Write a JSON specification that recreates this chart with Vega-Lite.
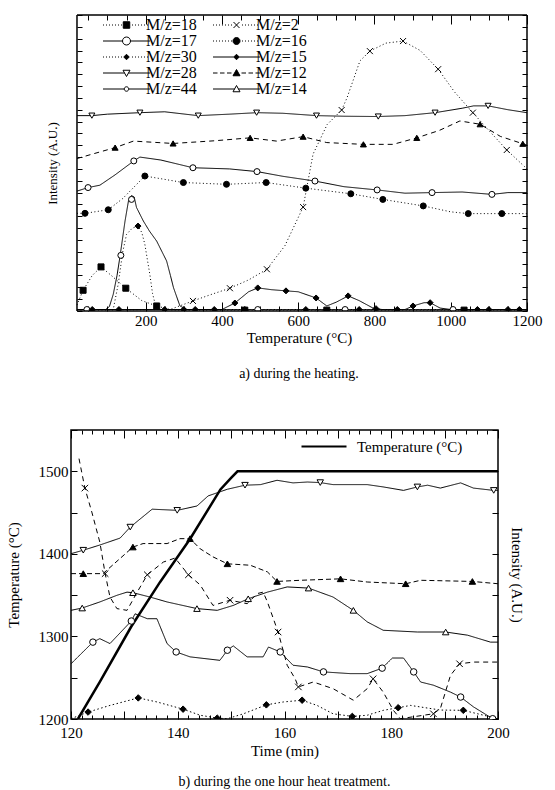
{
"$schema": "https://vega.github.io/schema/vega-lite/v6.json",
"background": "white",
"padding": {"left": 5, "top": 14, "right": 5, "bottom": 5},
"spacing": 41,
"resolve": {"scale": {"shape": "independent", "fill": "independent", "size": "independent", "strokeDash": "independent", "stroke": "independent"}, "legend": {"shape": "independent", "fill": "independent", "stroke": "independent", "size": "independent", "strokeDash": "independent"}},
"config": {
  "font": "Liberation Serif",
  "view": {"stroke": "black", "strokeWidth": 1.5},
  "axis": {"domain": false, "grid": false, "tickColor": "black", "tickWidth": 1, "labelColor": "black", "titleColor": "black", "labelFont": "Liberation Serif", "titleFont": "Liberation Serif", "labelFontSize": 15, "titleFontSize": 15, "titleFontWeight": "normal", "labelFlush": false, "labelOverlap": false},
  "title": {"font": "Liberation Serif", "fontSize": 14, "fontWeight": "normal", "color": "black"},
  "legend": {"labelFont": "Liberation Serif", "labelColor": "black"}
},
"datasets": {
  "topLines": [
    {"s":"M/z=28","T":20,"I":66},{"s":"M/z=28","T":59,"I":66},{"s":"M/z=28","T":100,"I":66.5},{"s":"M/z=28","T":185,"I":67},{"s":"M/z=28","T":250,"I":67.3},{"s":"M/z=28","T":337,"I":66},{"s":"M/z=28","T":420,"I":66.5},{"s":"M/z=28","T":492,"I":67},{"s":"M/z=28","T":560,"I":66.8},{"s":"M/z=28","T":649,"I":66},{"s":"M/z=28","T":720,"I":65.8},{"s":"M/z=28","T":809,"I":65.7},{"s":"M/z=28","T":880,"I":66},{"s":"M/z=28","T":959,"I":67},{"s":"M/z=28","T":1030,"I":68.5},{"s":"M/z=28","T":1060,"I":69.3},{"s":"M/z=28","T":1098,"I":69.3},{"s":"M/z=28","T":1150,"I":68},{"s":"M/z=28","T":1200,"I":67},
    {"s":"M/z=12","T":20,"I":51.5},{"s":"M/z=12","T":60,"I":53},{"s":"M/z=12","T":120,"I":55.2},{"s":"M/z=12","T":168,"I":57.4},{"s":"M/z=12","T":272,"I":56.6},{"s":"M/z=12","T":380,"I":57.5},{"s":"M/z=12","T":474,"I":58.5},{"s":"M/z=12","T":543,"I":57.4},{"s":"M/z=12","T":613,"I":58.9},{"s":"M/z=12","T":675,"I":56.9},{"s":"M/z=12","T":770,"I":56.3},{"s":"M/z=12","T":849,"I":56.3},{"s":"M/z=12","T":911,"I":58.5},{"s":"M/z=12","T":970,"I":61},{"s":"M/z=12","T":1024,"I":64.2},{"s":"M/z=12","T":1077,"I":63.1},{"s":"M/z=12","T":1130,"I":59},{"s":"M/z=12","T":1189,"I":56.5},{"s":"M/z=12","T":1200,"I":56},
    {"s":"M/z=17","T":20,"I":40.5},{"s":"M/z=17","T":49,"I":41.7},{"s":"M/z=17","T":80,"I":42.5},{"s":"M/z=17","T":120,"I":46},{"s":"M/z=17","T":169,"I":50.7},{"s":"M/z=17","T":185,"I":52},{"s":"M/z=17","T":240,"I":51},{"s":"M/z=17","T":324,"I":48.4},{"s":"M/z=17","T":420,"I":48},{"s":"M/z=17","T":492,"I":47.1},{"s":"M/z=17","T":560,"I":45.5},{"s":"M/z=17","T":644,"I":43.9},{"s":"M/z=17","T":720,"I":42},{"s":"M/z=17","T":807,"I":40.9},{"s":"M/z=17","T":880,"I":39.8},{"s":"M/z=17","T":951,"I":40},{"s":"M/z=17","T":1030,"I":40.2},{"s":"M/z=17","T":1108,"I":39.4},{"s":"M/z=17","T":1150,"I":40},{"s":"M/z=17","T":1200,"I":40},
    {"s":"M/z=16","T":20,"I":33},{"s":"M/z=16","T":41,"I":33},{"s":"M/z=16","T":102,"I":34.2},{"s":"M/z=16","T":140,"I":38},{"s":"M/z=16","T":198,"I":45.6},{"s":"M/z=16","T":299,"I":43.4},{"s":"M/z=16","T":412,"I":42.8},{"s":"M/z=16","T":516,"I":43.4},{"s":"M/z=16","T":620,"I":41.5},{"s":"M/z=16","T":738,"I":39.6},{"s":"M/z=16","T":822,"I":37.7},{"s":"M/z=16","T":928,"I":35.5},{"s":"M/z=16","T":1000,"I":33.5},{"s":"M/z=16","T":1046,"I":32.9},{"s":"M/z=16","T":1134,"I":32.9},{"s":"M/z=16","T":1200,"I":32.9},
    {"s":"M/z=44","T":20,"I":0.5},{"s":"M/z=44","T":95,"I":0.5},{"s":"M/z=44","T":105,"I":1.5},{"s":"M/z=44","T":115,"I":5.6},{"s":"M/z=44","T":125,"I":12},{"s":"M/z=44","T":133,"I":18.6},{"s":"M/z=44","T":146,"I":30.4},{"s":"M/z=44","T":155,"I":37.2},{"s":"M/z=44","T":163,"I":39},{"s":"M/z=44","T":170,"I":38.5},{"s":"M/z=44","T":176,"I":35},{"s":"M/z=44","T":194,"I":30.4},{"s":"M/z=44","T":210,"I":27},{"s":"M/z=44","T":229,"I":23.6},{"s":"M/z=44","T":255,"I":16.9},{"s":"M/z=44","T":265,"I":12},{"s":"M/z=44","T":273,"I":7.9},{"s":"M/z=44","T":290,"I":1.7},{"s":"M/z=44","T":308,"I":0.5},{"s":"M/z=44","T":1200,"I":0.5},
    {"s":"M/z=30","T":20,"I":0.5},{"s":"M/z=30","T":115,"I":0.5},{"s":"M/z=30","T":128,"I":9},{"s":"M/z=30","T":140,"I":20},{"s":"M/z=30","T":150,"I":25.9},{"s":"M/z=30","T":165,"I":28},{"s":"M/z=30","T":180,"I":28.7},{"s":"M/z=30","T":190,"I":26.5},{"s":"M/z=30","T":198,"I":22.5},{"s":"M/z=30","T":205,"I":17},{"s":"M/z=30","T":211,"I":12.4},{"s":"M/z=30","T":218,"I":6},{"s":"M/z=30","T":225,"I":2.3},{"s":"M/z=30","T":235,"I":0.6},{"s":"M/z=30","T":245,"I":0.5},{"s":"M/z=30","T":1200,"I":0.5},
    {"s":"M/z=2","T":20,"I":0.3},{"s":"M/z=2","T":264,"I":0.5},{"s":"M/z=2","T":324,"I":3.4},{"s":"M/z=2","T":370,"I":5.5},{"s":"M/z=2","T":421,"I":7.7},{"s":"M/z=2","T":470,"I":10.5},{"s":"M/z=2","T":518,"I":14.1},{"s":"M/z=2","T":565,"I":22},{"s":"M/z=2","T":613,"I":35.1},{"s":"M/z=2","T":639,"I":53},{"s":"M/z=2","T":676,"I":63},{"s":"M/z=2","T":714,"I":67.9},{"s":"M/z=2","T":728,"I":72},{"s":"M/z=2","T":762,"I":84.5},{"s":"M/z=2","T":788,"I":87.8},{"s":"M/z=2","T":830,"I":90.5},{"s":"M/z=2","T":875,"I":91.2},{"s":"M/z=2","T":920,"I":88},{"s":"M/z=2","T":967,"I":81.7},{"s":"M/z=2","T":1010,"I":74},{"s":"M/z=2","T":1058,"I":67},{"s":"M/z=2","T":1100,"I":61},{"s":"M/z=2","T":1147,"I":54.4},{"s":"M/z=2","T":1200,"I":48},
    {"s":"M/z=18","T":20,"I":2},{"s":"M/z=18","T":36,"I":7},{"s":"M/z=18","T":60,"I":12},{"s":"M/z=18","T":83,"I":14.9},{"s":"M/z=18","T":110,"I":12},{"s":"M/z=18","T":148,"I":7.7},{"s":"M/z=18","T":190,"I":3.5},{"s":"M/z=18","T":229,"I":1.7},{"s":"M/z=18","T":270,"I":0.3},{"s":"M/z=18","T":1200,"I":0.3},
    {"s":"M/z=15","T":20,"I":0.5},{"s":"M/z=15","T":400,"I":0.5},{"s":"M/z=15","T":434,"I":2.7},{"s":"M/z=15","T":470,"I":6.5},{"s":"M/z=15","T":494,"I":7.8},{"s":"M/z=15","T":530,"I":7.2},{"s":"M/z=15","T":568,"I":6.8},{"s":"M/z=15","T":600,"I":6.5},{"s":"M/z=15","T":647,"I":4.4},{"s":"M/z=15","T":675,"I":1.7},{"s":"M/z=15","T":700,"I":3},{"s":"M/z=15","T":731,"I":5.1},{"s":"M/z=15","T":760,"I":3.5},{"s":"M/z=15","T":796,"I":1.0},{"s":"M/z=15","T":820,"I":0.5},{"s":"M/z=15","T":880,"I":0.5},{"s":"M/z=15","T":901,"I":1.7},{"s":"M/z=15","T":930,"I":2.8},{"s":"M/z=15","T":946,"I":2.8},{"s":"M/z=15","T":972,"I":1.0},{"s":"M/z=15","T":1000,"I":0.5},{"s":"M/z=15","T":1200,"I":0.5}
  ],
  "topMarkers": [
    {"s":"M/z=28","T":59,"I":66},{"s":"M/z=28","T":185,"I":67},{"s":"M/z=28","T":338,"I":66},{"s":"M/z=28","T":491,"I":67},{"s":"M/z=28","T":648,"I":66},{"s":"M/z=28","T":810,"I":65.7},{"s":"M/z=28","T":959,"I":67},{"s":"M/z=28","T":1098,"I":69.3},
    {"s":"M/z=12","T":120,"I":55.2},{"s":"M/z=12","T":272,"I":56.6},{"s":"M/z=12","T":474,"I":58.5},{"s":"M/z=12","T":613,"I":58.9},{"s":"M/z=12","T":771,"I":56.3},{"s":"M/z=12","T":911,"I":58.5},{"s":"M/z=12","T":1077,"I":63.1},{"s":"M/z=12","T":1189,"I":56.5},
    {"s":"M/z=17","T":49,"I":41.7},{"s":"M/z=17","T":169,"I":50.7},{"s":"M/z=17","T":324,"I":48.4},{"s":"M/z=17","T":492,"I":47.1},{"s":"M/z=17","T":644,"I":43.9},{"s":"M/z=17","T":807,"I":40.9},{"s":"M/z=17","T":951,"I":40},{"s":"M/z=17","T":1108,"I":39.4},
    {"s":"M/z=16","T":41,"I":33},{"s":"M/z=16","T":102,"I":34.2},{"s":"M/z=16","T":198,"I":45.6},{"s":"M/z=16","T":299,"I":43.4},{"s":"M/z=16","T":412,"I":42.8},{"s":"M/z=16","T":516,"I":43.4},{"s":"M/z=16","T":620,"I":41.5},{"s":"M/z=16","T":738,"I":39.6},{"s":"M/z=16","T":822,"I":37.7},{"s":"M/z=16","T":928,"I":35.5},{"s":"M/z=16","T":1046,"I":32.9},{"s":"M/z=16","T":1134,"I":32.9},
    {"s":"M/z=44","T":46,"I":0.5},{"s":"M/z=44","T":135,"I":18.8},{"s":"M/z=44","T":163,"I":37.7},{"s":"M/z=44","T":494,"I":0.5},{"s":"M/z=44","T":723,"I":0.5},{"s":"M/z=44","T":1006,"I":0.5},
    {"s":"M/z=30","T":180,"I":28.7},{"s":"M/z=30","T":250,"I":0.5},{"s":"M/z=30","T":330,"I":0.5},{"s":"M/z=30","T":460,"I":0.5},{"s":"M/z=30","T":620,"I":0.5},{"s":"M/z=30","T":760,"I":0.5},{"s":"M/z=30","T":860,"I":0.5},{"s":"M/z=30","T":1100,"I":0.5},{"s":"M/z=30","T":1180,"I":0.5},
    {"s":"M/z=2","T":324,"I":3.4},{"s":"M/z=2","T":421,"I":7.7},{"s":"M/z=2","T":518,"I":14.1},{"s":"M/z=2","T":613,"I":35.1},{"s":"M/z=2","T":714,"I":67.9},{"s":"M/z=2","T":788,"I":87.8},{"s":"M/z=2","T":875,"I":91.2},{"s":"M/z=2","T":967,"I":81.7},{"s":"M/z=2","T":1058,"I":67},{"s":"M/z=2","T":1147,"I":54.4},
    {"s":"M/z=18","T":36,"I":7},{"s":"M/z=18","T":83,"I":14.9},{"s":"M/z=18","T":148,"I":7.7},{"s":"M/z=18","T":229,"I":1.7},{"s":"M/z=18","T":460,"I":0.3},{"s":"M/z=18","T":675,"I":0.3},{"s":"M/z=18","T":1035,"I":0.3},
    {"s":"M/z=15","T":60,"I":0.5},{"s":"M/z=15","T":130,"I":0.5},{"s":"M/z=15","T":300,"I":0.5},{"s":"M/z=15","T":380,"I":0.5},{"s":"M/z=15","T":434,"I":2.7},{"s":"M/z=15","T":494,"I":7.8},{"s":"M/z=15","T":568,"I":6.8},{"s":"M/z=15","T":647,"I":4.4},{"s":"M/z=15","T":731,"I":5.1},{"s":"M/z=15","T":804,"I":0.8},{"s":"M/z=15","T":901,"I":1.7},{"s":"M/z=15","T":946,"I":2.8},{"s":"M/z=15","T":1070,"I":0.5},{"s":"M/z=15","T":1150,"I":0.5}
  ],
  "topLegend": [
    {"s":"M/z=18"},{"s":"M/z=17"},{"s":"M/z=30"},{"s":"M/z=28"},{"s":"M/z=44"},{"s":"M/z=2"},{"s":"M/z=16"},{"s":"M/z=15"},{"s":"M/z=12"},{"s":"M/z=14"}
  ],
  "temp": [
    {"t":121.3,"v":1200},{"t":125.4,"v":1245},{"t":131.3,"v":1312},{"t":136.7,"v":1366},{"t":142.3,"v":1418},{"t":148,"v":1478},{"t":150,"v":1492},{"t":151.2,"v":1500},{"t":200,"v":1500}
  ],
  "bottomLines": [
    {"s":"M/z=28","t":120,"I":57.2},{"s":"M/z=28","t":122.3,"I":58.4},{"s":"M/z=28","t":125.4,"I":60.2},{"s":"M/z=28","t":129.2,"I":62.6},{"s":"M/z=28","t":131.1,"I":66.4},{"s":"M/z=28","t":135.2,"I":72.6},{"s":"M/z=28","t":139.9,"I":72.2},{"s":"M/z=28","t":143.6,"I":73.7},{"s":"M/z=28","t":145.7,"I":77.2},{"s":"M/z=28","t":149.3,"I":79.5},{"s":"M/z=28","t":152.6,"I":80.9},{"s":"M/z=28","t":155.5,"I":81.1},{"s":"M/z=28","t":158.6,"I":82.6},{"s":"M/z=28","t":161.6,"I":81.7},{"s":"M/z=28","t":164.3,"I":82.0},{"s":"M/z=28","t":166.7,"I":81.8},{"s":"M/z=28","t":169.1,"I":81.1},{"s":"M/z=28","t":175.5,"I":81.1},{"s":"M/z=28","t":178.5,"I":80.3},{"s":"M/z=28","t":182.3,"I":79.1},{"s":"M/z=28","t":184.9,"I":80.3},{"s":"M/z=28","t":186.8,"I":80.9},{"s":"M/z=28","t":189.2,"I":79.9},{"s":"M/z=28","t":193.0,"I":81.7},{"s":"M/z=28","t":195.4,"I":79.9},{"s":"M/z=28","t":199.2,"I":79.1},{"s":"M/z=28","t":200,"I":79.1},
    {"s":"M/z=12","t":120,"I":50.3},{"s":"M/z=12","t":122.3,"I":50.3},{"s":"M/z=12","t":126.0,"I":50.3},{"s":"M/z=12","t":131.6,"I":59.5},{"s":"M/z=12","t":133.5,"I":60.7},{"s":"M/z=12","t":138.0,"I":60.7},{"s":"M/z=12","t":140.4,"I":62.4},{"s":"M/z=12","t":142.3,"I":62.4},{"s":"M/z=12","t":144.2,"I":58.9},{"s":"M/z=12","t":146.6,"I":56.1},{"s":"M/z=12","t":149.3,"I":53.7},{"s":"M/z=12","t":153.6,"I":53.2},{"s":"M/z=12","t":156.8,"I":50.9},{"s":"M/z=12","t":158.6,"I":47.6},{"s":"M/z=12","t":163.0,"I":48.0},{"s":"M/z=12","t":170.5,"I":48.5},{"s":"M/z=12","t":175.5,"I":47.4},{"s":"M/z=12","t":182.7,"I":46.8},{"s":"M/z=12","t":185.5,"I":48.0},{"s":"M/z=12","t":195.2,"I":47.6},{"s":"M/z=12","t":200,"I":46.8},
    {"s":"M/z=2","t":121.5,"I":90.1},{"s":"M/z=2","t":122.6,"I":79.9},{"s":"M/z=2","t":123.9,"I":71.6},{"s":"M/z=2","t":125.4,"I":61.2},{"s":"M/z=2","t":126.4,"I":50.3},{"s":"M/z=2","t":127.3,"I":42.2},{"s":"M/z=2","t":128.6,"I":38.2},{"s":"M/z=2","t":130.5,"I":37.6},{"s":"M/z=2","t":132.4,"I":43.9},{"s":"M/z=2","t":134.3,"I":49.9},{"s":"M/z=2","t":137.3,"I":54.3},{"s":"M/z=2","t":139.5,"I":55.7},{"s":"M/z=2","t":142.0,"I":49.9},{"s":"M/z=2","t":144.2,"I":46.4},{"s":"M/z=2","t":146.6,"I":39.3},{"s":"M/z=2","t":149.8,"I":41.1},{"s":"M/z=2","t":153.0,"I":39.9},{"s":"M/z=2","t":154.9,"I":43.4},{"s":"M/z=2","t":156.0,"I":43.9},{"s":"M/z=2","t":156.8,"I":40.5},{"s":"M/z=2","t":158.8,"I":30.1},{"s":"M/z=2","t":160.5,"I":18.6},{"s":"M/z=2","t":162.0,"I":13.9},{"s":"M/z=2","t":162.6,"I":11.1},{"s":"M/z=2","t":165.4,"I":12.8},{"s":"M/z=2","t":169.1,"I":10.5},{"s":"M/z=2","t":172.9,"I":6.5},{"s":"M/z=2","t":175.5,"I":10.5},{"s":"M/z=2","t":176.6,"I":13.9},{"s":"M/z=2","t":178.5,"I":9.3},{"s":"M/z=2","t":180.4,"I":3.0},{"s":"M/z=2","t":181.7,"I":0.1},{"s":"M/z=2","t":187.9,"I":1.8},{"s":"M/z=2","t":189.2,"I":3.6},{"s":"M/z=2","t":191.1,"I":15.1},{"s":"M/z=2","t":192.8,"I":19.1},{"s":"M/z=2","t":195.4,"I":19.7},{"s":"M/z=2","t":200,"I":19.7},
    {"s":"M/z=14","t":120,"I":37.6},{"s":"M/z=14","t":122.1,"I":38.4},{"s":"M/z=14","t":125.4,"I":40.5},{"s":"M/z=14","t":128.6,"I":42.8},{"s":"M/z=14","t":130.5,"I":43.9},{"s":"M/z=14","t":131.6,"I":43.7},{"s":"M/z=14","t":134.8,"I":42.2},{"s":"M/z=14","t":138.0,"I":40.5},{"s":"M/z=14","t":143.6,"I":38.2},{"s":"M/z=14","t":147.4,"I":37.6},{"s":"M/z=14","t":150.4,"I":39.3},{"s":"M/z=14","t":153.2,"I":41.6},{"s":"M/z=14","t":156.8,"I":43.9},{"s":"M/z=14","t":160.5,"I":45.7},{"s":"M/z=14","t":164.5,"I":45.3},{"s":"M/z=14","t":169.1,"I":42.2},{"s":"M/z=14","t":172.9,"I":37.6},{"s":"M/z=14","t":175.5,"I":33.6},{"s":"M/z=14","t":178.5,"I":30.7},{"s":"M/z=14","t":184.9,"I":30.1},{"s":"M/z=14","t":190.2,"I":30.1},{"s":"M/z=14","t":194.3,"I":29.0},{"s":"M/z=14","t":198.6,"I":26.6},{"s":"M/z=14","t":200,"I":26.6},
    {"s":"M/z=44","t":120,"I":19.1},{"s":"M/z=44","t":124.1,"I":26.6},{"s":"M/z=44","t":125.4,"I":27.8},{"s":"M/z=44","t":127.3,"I":26.1},{"s":"M/z=44","t":131.3,"I":33.9},{"s":"M/z=44","t":132.0,"I":36.4},{"s":"M/z=44","t":134.3,"I":34.7},{"s":"M/z=44","t":136.1,"I":34.7},{"s":"M/z=44","t":138.0,"I":26.1},{"s":"M/z=44","t":139.7,"I":23.2},{"s":"M/z=44","t":142.3,"I":21.5},{"s":"M/z=44","t":147.9,"I":20.3},{"s":"M/z=44","t":149.3,"I":23.8},{"s":"M/z=44","t":150.4,"I":25.3},{"s":"M/z=44","t":153.0,"I":21.5},{"s":"M/z=44","t":156.0,"I":21.5},{"s":"M/z=44","t":157.0,"I":24.9},{"s":"M/z=44","t":159.2,"I":23.2},{"s":"M/z=44","t":161.6,"I":18.6},{"s":"M/z=44","t":164.3,"I":18.0},{"s":"M/z=44","t":167.3,"I":16.3},{"s":"M/z=44","t":172.3,"I":15.7},{"s":"M/z=44","t":175.5,"I":15.7},{"s":"M/z=44","t":178.3,"I":17.6},{"s":"M/z=44","t":180.2,"I":21.1},{"s":"M/z=44","t":182.3,"I":21.1},{"s":"M/z=44","t":184.2,"I":16.3},{"s":"M/z=44","t":185.5,"I":12.8},{"s":"M/z=44","t":187.9,"I":11.7},{"s":"M/z=44","t":191.1,"I":9.3},{"s":"M/z=44","t":193.0,"I":7.6},{"s":"M/z=44","t":195.4,"I":4.2},{"s":"M/z=44","t":199.0,"I":0.1},{"s":"M/z=44","t":200,"I":0.1},
    {"s":"M/z=30","t":120,"I":0.1},{"s":"M/z=30","t":123.2,"I":2.4},{"s":"M/z=30","t":127.3,"I":4.7},{"s":"M/z=30","t":132.6,"I":7.3},{"s":"M/z=30","t":136.1,"I":5.9},{"s":"M/z=30","t":141.0,"I":3.4},{"s":"M/z=30","t":144.2,"I":1.3},{"s":"M/z=30","t":147.4,"I":0.3},{"s":"M/z=30","t":149.3,"I":0.1},{"s":"M/z=30","t":152.3,"I":1.8},{"s":"M/z=30","t":156.6,"I":4.9},{"s":"M/z=30","t":159.8,"I":5.9},{"s":"M/z=30","t":163.3,"I":6.5},{"s":"M/z=30","t":166.1,"I":4.7},{"s":"M/z=30","t":169.1,"I":1.8},{"s":"M/z=30","t":172.7,"I":0.9},{"s":"M/z=30","t":175.5,"I":1.3},{"s":"M/z=30","t":178.5,"I":3.0},{"s":"M/z=30","t":181.3,"I":3.9},{"s":"M/z=30","t":183.6,"I":4.7},{"s":"M/z=30","t":189.2,"I":3.1},{"s":"M/z=30","t":193.5,"I":3.0},{"s":"M/z=30","t":200,"I":0.1}
  ],
  "bottomMarkers": [
    {"s":"M/z=28","t":122.3,"I":58.4},{"s":"M/z=28","t":131.1,"I":66.4},{"s":"M/z=28","t":139.9,"I":72.2},{"s":"M/z=28","t":152.6,"I":80.9},{"s":"M/z=28","t":166.7,"I":81.8},{"s":"M/z=28","t":184.9,"I":80.3},{"s":"M/z=28","t":199.2,"I":79.1},
    {"s":"M/z=12","t":122.3,"I":50.3},{"s":"M/z=12","t":131.6,"I":59.5},{"s":"M/z=12","t":142.3,"I":62.4},{"s":"M/z=12","t":149.3,"I":53.7},{"s":"M/z=12","t":158.6,"I":47.6},{"s":"M/z=12","t":170.5,"I":48.5},{"s":"M/z=12","t":182.7,"I":46.8},{"s":"M/z=12","t":195.2,"I":47.6},
    {"s":"M/z=2","t":122.6,"I":79.9},{"s":"M/z=2","t":126.4,"I":50.3},{"s":"M/z=2","t":134.3,"I":49.9},{"s":"M/z=2","t":142.0,"I":49.9},{"s":"M/z=2","t":149.8,"I":41.1},{"s":"M/z=2","t":158.8,"I":30.1},{"s":"M/z=2","t":162.6,"I":11.1},{"s":"M/z=2","t":176.6,"I":13.9},{"s":"M/z=2","t":187.9,"I":1.8},{"s":"M/z=2","t":192.8,"I":19.1},
    {"s":"M/z=14","t":122.1,"I":38.4},{"s":"M/z=14","t":131.6,"I":43.7},{"s":"M/z=14","t":143.6,"I":38.2},{"s":"M/z=14","t":153.2,"I":41.6},{"s":"M/z=14","t":164.5,"I":45.3},{"s":"M/z=14","t":172.9,"I":37.6},{"s":"M/z=14","t":190.2,"I":30.1},
    {"s":"M/z=44","t":124.1,"I":26.6},{"s":"M/z=44","t":131.3,"I":33.9},{"s":"M/z=44","t":139.7,"I":23.2},{"s":"M/z=44","t":149.3,"I":23.8},{"s":"M/z=44","t":159.2,"I":23.2},{"s":"M/z=44","t":167.3,"I":16.3},{"s":"M/z=44","t":178.3,"I":17.6},{"s":"M/z=44","t":184.2,"I":16.3},{"s":"M/z=44","t":193.0,"I":7.6},{"s":"M/z=44","t":199.0,"I":0.1},
    {"s":"M/z=30","t":123.2,"I":2.4},{"s":"M/z=30","t":132.6,"I":7.3},{"s":"M/z=30","t":141.0,"I":3.4},{"s":"M/z=30","t":147.4,"I":0.3},{"s":"M/z=30","t":156.6,"I":4.9},{"s":"M/z=30","t":163.3,"I":6.5},{"s":"M/z=30","t":172.7,"I":0.9},{"s":"M/z=30","t":181.3,"I":3.9},{"s":"M/z=30","t":193.5,"I":3.0}
  ]
},
"vconcat": [
  {
    "width": 456, "height": 296,
    "view": {"stroke": null},
    "title": {"text": "a) during the heating.", "orient": "bottom", "offset": 22},
    "layer": [
      {
        "data": {"name": "topLines"},
        "mark": {"type": "line", "strokeWidth": 1, "color": "black", "clip": true},
        "encoding": {
          "x": {"field": "T", "type": "quantitative", "scale": {"domain": [4.3, 1200], "nice": false, "zero": false},
                "axis": {"orient": "bottom", "values": [50,100,150,200,250,300,350,400,450,500,550,600,650,700,750,800,850,900,950,1000,1050,1100,1150,1200], "format": "d", "labelExpr": "datum.value % 200 === 0 ? datum.label : ''", "tickSize": {"condition": {"test": "datum.value % 200 === 0", "value": -9}, "value": -5}, "labelPadding": 11, "title": "Temperature (°C)", "titlePadding": -2}},
          "y": {"field": "I", "type": "quantitative", "scale": {"domain": [0, 100], "nice": false, "zero": false},
                "axis": {"orient": "left", "offset": -6, "values": [0,4,8,12,16,20,24,28,32,36,40,44,48,52,56,60,64,68,72,76,80,84,88,92,96,100], "labels": false, "tickSize": -5, "title": "Intensity (A.U.)", "titleFontSize": 13, "titlePadding": 17}},
          "detail": {"field": "s", "type": "nominal"},
          "strokeDash": {"field": "s", "type": "nominal", "legend": null,
                "scale": {"domain": ["M/z=18","M/z=2","M/z=17","M/z=16","M/z=30","M/z=15","M/z=28","M/z=12","M/z=44","M/z=14"], "range": [[1,2.5],[1,2.5],[1,0],[1,2.5],[1,2.5],[1,0],[1,0],[5,4],[1,0],[1,0]]}}
        }
      },
      {
        "data": {"name": "topMarkers"},
        "mark": {"type": "point", "stroke": "black", "strokeWidth": 1, "opacity": 1, "clip": true},
        "encoding": {
          "x": {"field": "T", "type": "quantitative",
                "axis": {"orient": "top", "values": [50,100,150,200,250,300,350,400,450,500,550,600,650,700,750,800,850,900,950,1000,1050,1100,1150,1200], "labels": false, "tickSize": {"condition": {"test": "datum.value % 200 === 0", "value": -9}, "value": -5}, "title": null}},
          "y": {"field": "I", "type": "quantitative",
                "axis": {"orient": "right", "values": [0,4,8,12,16,20,24,28,32,36,40,44,48,52,56,60,64,68,72,76,80,84,88,92,96,100], "labels": false, "tickSize": -5, "title": null}},
          "shape": {"field": "s", "type": "nominal", "legend": null,
                "scale": {"domain": ["M/z=18","M/z=2","M/z=17","M/z=16","M/z=30","M/z=15","M/z=28","M/z=12","M/z=44","M/z=14"], "range": ["square","M-1,-1L1,1M-1,1L1,-1","circle","circle","diamond","diamond","triangle-down","triangle-up","circle","triangle-up"]}},
          "fill": {"field": "s", "type": "nominal", "legend": null,
                "scale": {"domain": ["M/z=18","M/z=2","M/z=17","M/z=16","M/z=30","M/z=15","M/z=28","M/z=12","M/z=44","M/z=14"], "range": ["black","black","white","black","black","black","white","black","white","white"]}},
          "size": {"field": "s", "type": "nominal", "legend": null,
                "scale": {"domain": ["M/z=18","M/z=2","M/z=17","M/z=16","M/z=30","M/z=15","M/z=28","M/z=12","M/z=44","M/z=14"], "range": [36,36,64,49,30,30,56,56,25,56]}}
        }
      },
      {
        "data": {"values": [{}]},
        "mark": {"type": "rule", "color": "black", "strokeWidth": 1.5},
        "encoding": {"x": {"datum": 20, "type": "quantitative", "axis": null}, "y": {"datum": 0, "type": "quantitative", "axis": null}, "y2": {"datum": 100}}
      },
      {
        "data": {"values": [{}]},
        "mark": {"type": "rule", "color": "black", "strokeWidth": 1.5},
        "encoding": {"x": {"datum": 1200, "type": "quantitative", "axis": null}, "y": {"datum": 0, "type": "quantitative", "axis": null}, "y2": {"datum": 100}}
      },
      {
        "data": {"values": [{}]},
        "mark": {"type": "rule", "color": "black", "strokeWidth": 1.5},
        "encoding": {"x": {"datum": 20, "type": "quantitative", "axis": null}, "x2": {"datum": 1200}, "y": {"datum": 100, "type": "quantitative", "axis": null}}
      },
      {
        "data": {"values": [{}]},
        "mark": {"type": "rule", "color": "black", "strokeWidth": 1.5},
        "encoding": {"x": {"datum": 20, "type": "quantitative", "axis": null}, "x2": {"datum": 1200}, "y": {"datum": 0, "type": "quantitative", "axis": null}}
      },
      {
        "data": {"name": "topLegend"},
        "mark": {"type": "point", "opacity": 0, "strokeWidth": 1},
        "encoding": {
          "shape": {"field": "s", "type": "nominal",
                "scale": {"domain": ["M/z=18","M/z=17","M/z=30","M/z=28","M/z=44","M/z=2","M/z=16","M/z=15","M/z=12","M/z=14"],
                          "range": [
                            "M-1,0h0.2M-0.4,0h0.2M0.2,0h0.2M0.8,0h0.2M1.4,0h0.2M2,0h0.2M2.6,0h0.2M3.05,-0.65h1.3v1.3h-1.3ZM4.8,0h0.2M5.4,0h0.2M6,0h0.2M6.6,0h0.2M7.2,0h0.2M7.8,0h0.2",
                            "M-1,0H2.9M4.5,0H8.4M2.9,0A0.8,0.8 0 1,0 4.5,0A0.8,0.8 0 1,0 2.9,0Z",
                            "M-1,0h0.2M-0.4,0h0.2M0.2,0h0.2M0.8,0h0.2M1.4,0h0.2M2,0h0.2M2.6,0h0.2M3.7,-0.55L4.25,0L3.7,0.55L3.15,0ZM4.8,0h0.2M5.4,0h0.2M6,0h0.2M6.6,0h0.2M7.2,0h0.2M7.8,0h0.2",
                            "M-1,0H3.31M4.09,0H8.4M3,-0.55L4.4,-0.55L3.7,0.7Z",
                            "M-1,0H3.25M4.15,0H8.4M3.25,0A0.45,0.45 0 1,0 4.15,0A0.45,0.45 0 1,0 3.25,0Z",
                            "M-1,0h0.2M-0.4,0h0.2M0.2,0h0.2M0.8,0h0.2M1.4,0h0.2M2,0h0.2M2.6,0h0.2M3.1,-0.6L4.3,0.6M3.1,0.6L4.3,-0.6M4.8,0h0.2M5.4,0h0.2M6,0h0.2M6.6,0h0.2M7.2,0h0.2M7.8,0h0.2",
                            "M-1,0h0.2M-0.4,0h0.2M0.2,0h0.2M0.8,0h0.2M1.4,0h0.2M2,0h0.2M2.6,0h0.2M3,0A0.7,0.7 0 1,0 4.4,0A0.7,0.7 0 1,0 3,0ZM4.8,0h0.2M5.4,0h0.2M6,0h0.2M6.6,0h0.2M7.2,0h0.2M7.8,0h0.2",
                            "M-1,0H3.15M4.25,0H8.4M3.7,-0.55L4.25,0L3.7,0.55L3.15,0Z",
                            "M-1,0h0.9M0.4,0h0.9M1.8,0h0.9M4.7,0h0.9M6.1,0h0.9M7.5,0h0.9M3,0.55L4.4,0.55L3.7,-0.7Z",
                            "M-1,0H3.31M4.09,0H8.4M3,0.55L4.4,0.55L3.7,-0.7Z"
                          ]},
                "legend": {"title": null, "orient": "none", "legendX": 29, "legendY": 2, "columns": 2, "symbolSize": 100, "symbolStrokeWidth": 1, "symbolOpacity": 1, "labelFontSize": 16, "labelOffset": 30, "columnPadding": 13, "rowPadding": -1.8, "padding": 0}},
          "fill": {"field": "s", "type": "nominal",
                "scale": {"domain": ["M/z=18","M/z=17","M/z=30","M/z=28","M/z=44","M/z=2","M/z=16","M/z=15","M/z=12","M/z=14"], "range": ["black","white","black","white","white","black","black","black","black","white"]},
                "legend": {"title": null, "orient": "none", "legendX": 29, "legendY": 2, "columns": 2, "symbolSize": 100, "symbolStrokeWidth": 1, "symbolOpacity": 1, "labelFontSize": 16, "labelOffset": 30, "columnPadding": 13, "rowPadding": -1.8, "padding": 0}},
          "stroke": {"field": "s", "type": "nominal",
                "scale": {"domain": ["M/z=18","M/z=17","M/z=30","M/z=28","M/z=44","M/z=2","M/z=16","M/z=15","M/z=12","M/z=14"], "range": ["black","black","black","black","black","black","black","black","black","black"]},
                "legend": {"title": null, "orient": "none", "legendX": 29, "legendY": 2, "columns": 2, "symbolSize": 100, "symbolStrokeWidth": 1, "symbolOpacity": 1, "labelFontSize": 16, "labelOffset": 30, "columnPadding": 13, "rowPadding": -1.8, "padding": 0}}
        }
      }
    ],
    "resolve": {"scale": {"shape": "independent", "fill": "independent", "size": "independent", "stroke": "independent"}, "axis": {"x": "independent", "y": "independent"}}
  },
  {
    "width": 427, "height": 289,
    "title": {"text": "b) during the one hour heat treatment.", "orient": "bottom", "offset": 17},
    "layer": [
      {
        "data": {"name": "temp"},
        "mark": {"type": "line", "strokeWidth": 2.5, "clip": true},
        "encoding": {
          "x": {"field": "t", "type": "quantitative", "scale": {"domain": [120, 200], "nice": false, "zero": false},
                "axis": {"orient": "bottom", "values": [120,122,124,126,128,130,132,134,136,138,140,142,144,146,148,150,152,154,156,158,160,162,164,166,168,170,172,174,176,178,180,182,184,186,188,190,192,194,196,198,200], "labelExpr": "datum.value % 20 === 0 ? datum.label : ''", "tickSize": {"condition": {"test": "datum.value % 10 === 0", "value": -8}, "value": -4}, "labelPadding": 14, "title": "Time (min)", "titlePadding": -1}},
          "y": {"field": "v", "type": "quantitative", "scale": {"domain": [1200, 1550], "nice": false, "zero": false},
                "axis": {"orient": "left", "values": [1200,1250,1300,1350,1400,1450,1500,1550], "format": "d", "labelExpr": "datum.value % 100 === 0 ? datum.label : ''", "tickSize": -6, "labelPadding": 9, "title": "Temperature (°C)", "titlePadding": 17}},
          "stroke": {"datum": "Temperature (°C)", "type": "nominal", "scale": {"range": ["black"]},
                "legend": {"title": null, "orient": "none", "legendX": 226, "legendY": 9, "symbolType": "M-1,0H14", "symbolSize": 36, "symbolStrokeWidth": 2, "labelOffset": 45, "labelFontSize": 15, "padding": 0}}
        }
      },
      {
        "data": {"name": "bottomLines"},
        "mark": {"type": "line", "strokeWidth": 1, "color": "black", "clip": true},
        "encoding": {
          "x": {"field": "t", "type": "quantitative",
                "axis": {"orient": "top", "values": [120,122,124,126,128,130,132,134,136,138,140,142,144,146,148,150,152,154,156,158,160,162,164,166,168,170,172,174,176,178,180,182,184,186,188,190,192,194,196,198,200], "labels": false, "tickSize": {"condition": {"test": "datum.value % 10 === 0", "value": -8}, "value": -4}, "title": null}},
          "y": {"field": "I", "type": "quantitative", "scale": {"domain": [0, 100], "nice": false, "zero": false},
                "axis": {"orient": "right", "values": [0,14.2857,28.5714,42.8571,57.1429,71.4286,85.7143,100], "labels": false, "tickSize": -6, "title": "Intensity (A.U.)", "titleAngle": 90, "titlePadding": 10}},
          "detail": {"field": "s", "type": "nominal"},
          "strokeDash": {"field": "s", "type": "nominal", "legend": null,
                "scale": {"domain": ["M/z=28","M/z=12","M/z=2","M/z=14","M/z=44","M/z=30"], "range": [[1,0],[5,3],[5,4],[1,0],[1,0],[1.5,2.5]]}}
        }
      },
      {
        "data": {"name": "bottomMarkers"},
        "mark": {"type": "point", "stroke": "black", "strokeWidth": 1, "opacity": 1, "clip": true},
        "encoding": {
          "x": {"field": "t", "type": "quantitative", "axis": null},
          "y": {"field": "I", "type": "quantitative", "scale": {"domain": [0, 100], "nice": false, "zero": false}, "axis": null},
          "shape": {"field": "s", "type": "nominal", "legend": null,
                "scale": {"domain": ["M/z=28","M/z=12","M/z=2","M/z=14","M/z=44","M/z=30"], "range": ["triangle-down","triangle-up","M-1,-1L1,1M-1,1L1,-1","triangle-up","circle","diamond"]}},
          "fill": {"field": "s", "type": "nominal", "legend": null,
                "scale": {"domain": ["M/z=28","M/z=12","M/z=2","M/z=14","M/z=44","M/z=30"], "range": ["white","black","black","white","white","black"]}},
          "size": {"field": "s", "type": "nominal", "legend": null,
                "scale": {"domain": ["M/z=28","M/z=12","M/z=2","M/z=14","M/z=44","M/z=30"], "range": [42,42,30,42,25,36]}}
        }
      }
    ],
    "resolve": {"scale": {"y": "independent"}, "axis": {"x": "independent", "y": "independent"}}
  }
]
}
